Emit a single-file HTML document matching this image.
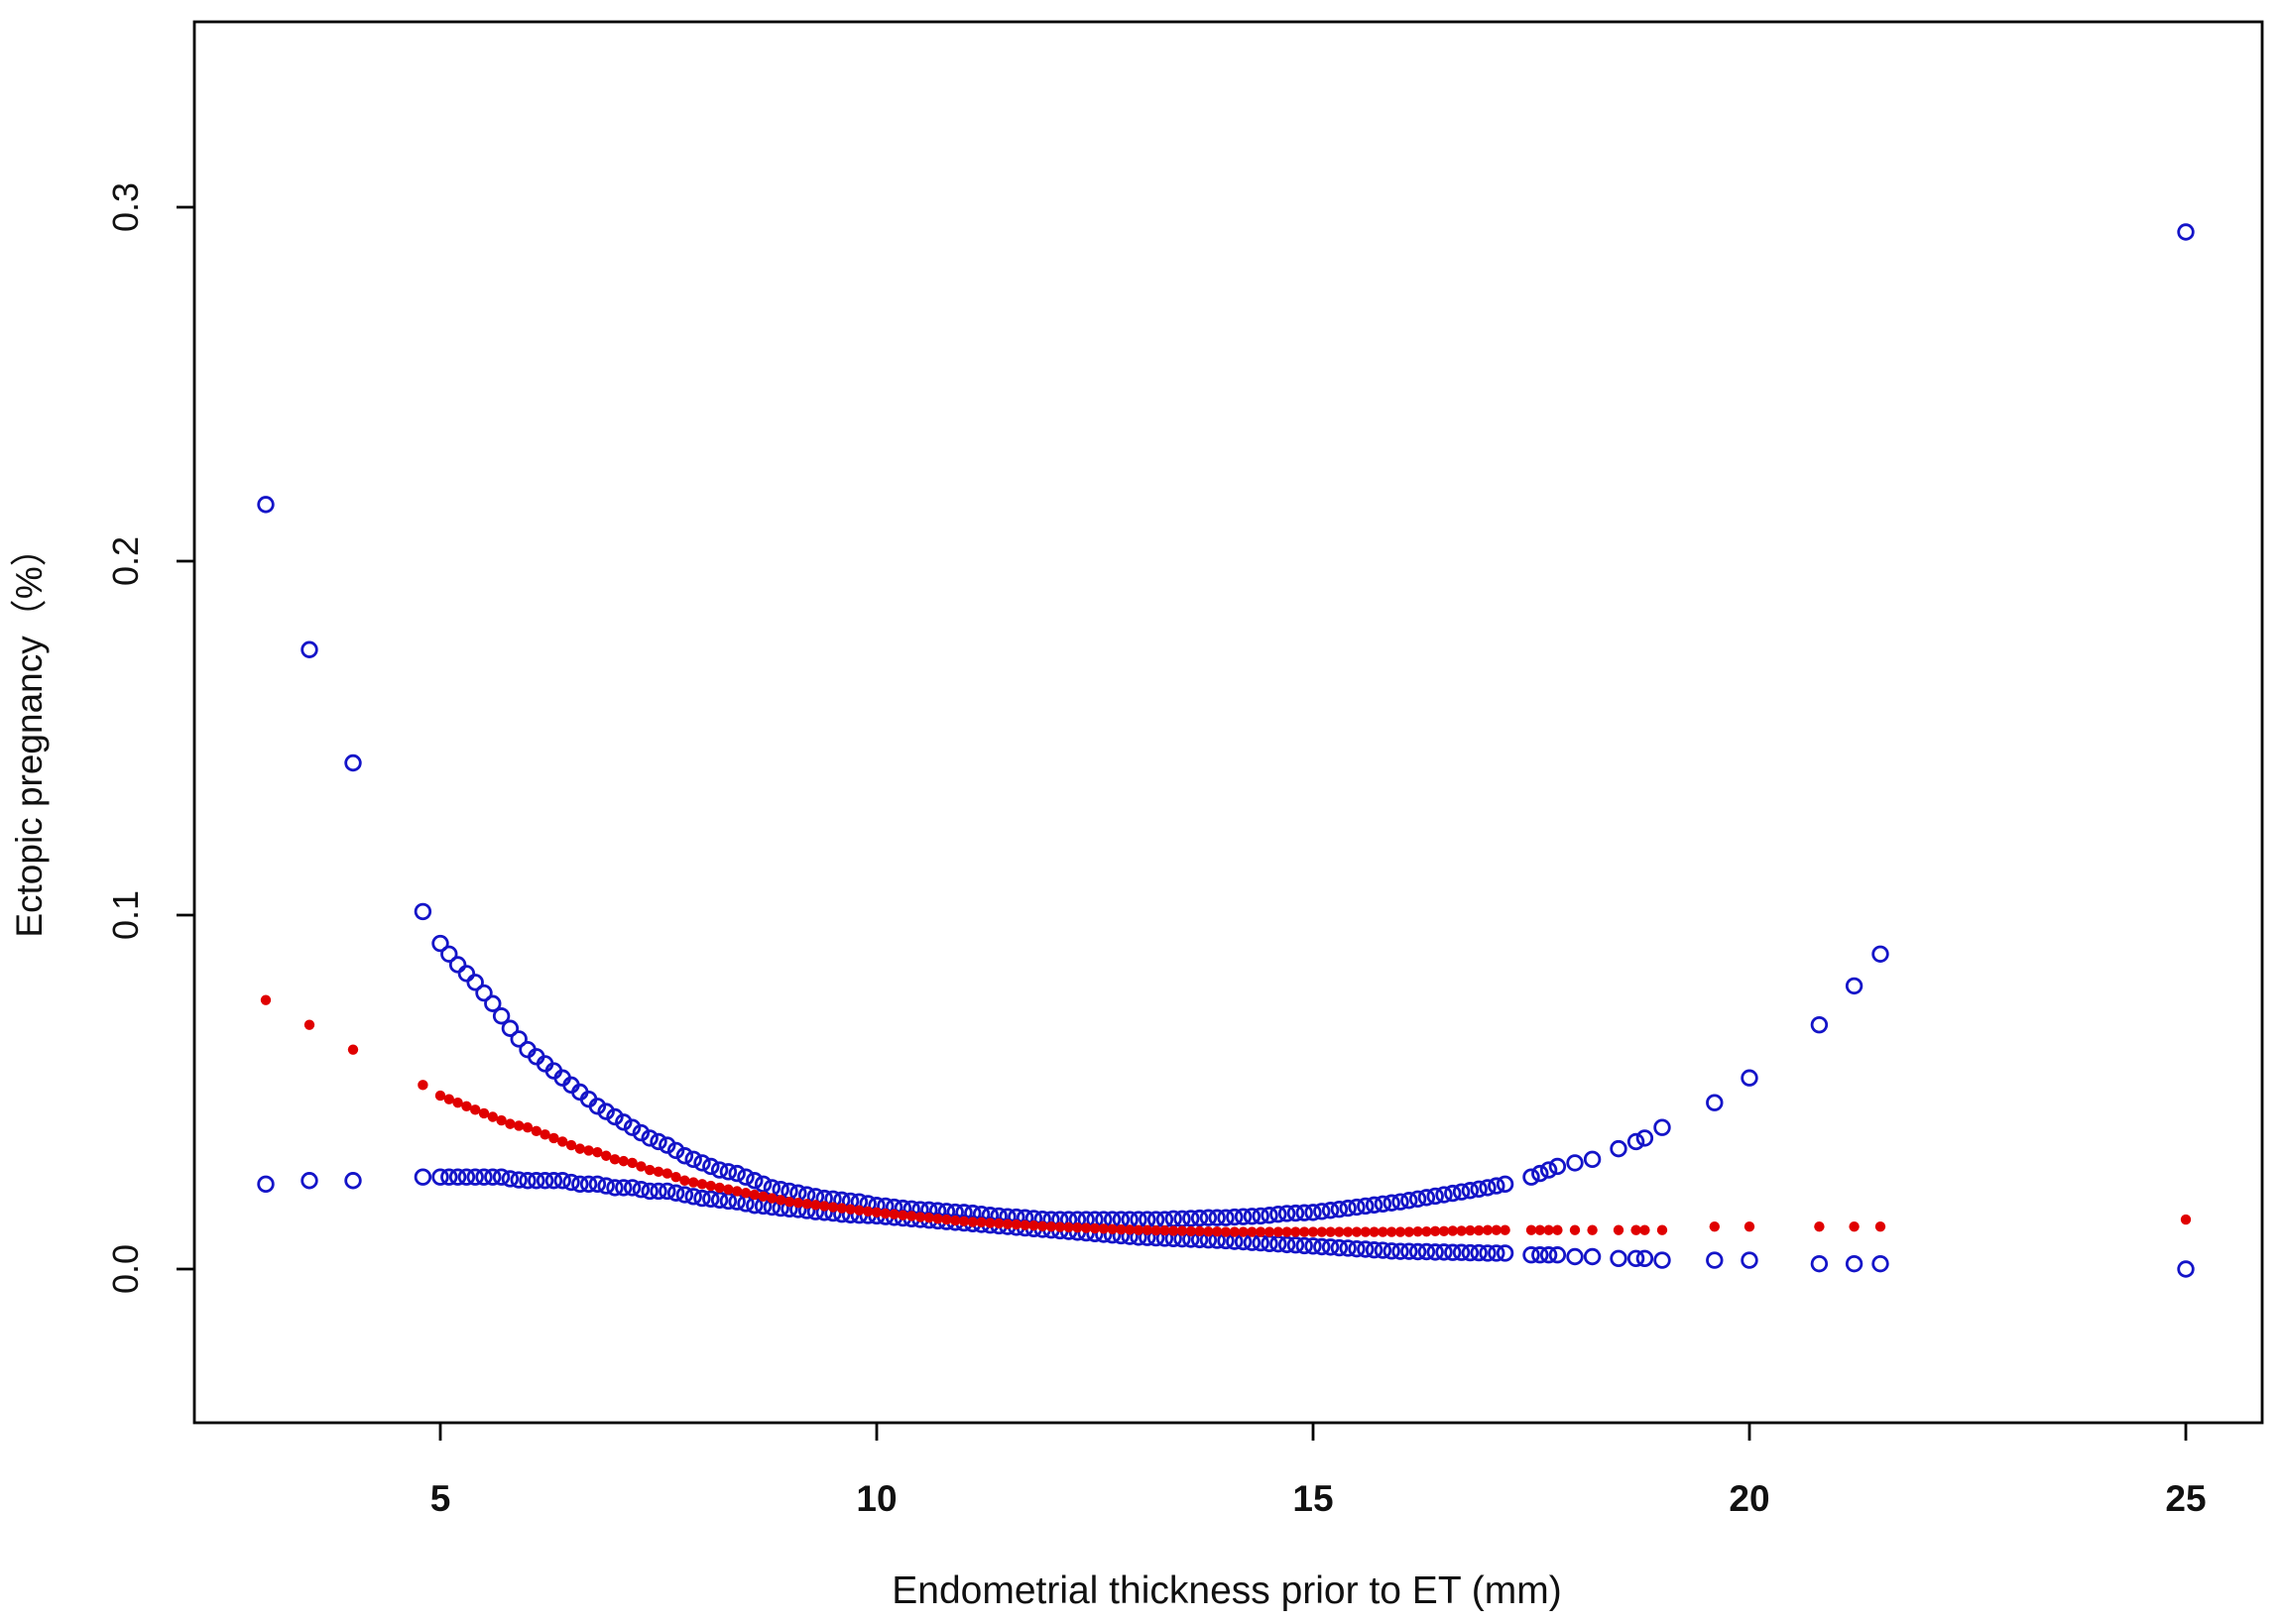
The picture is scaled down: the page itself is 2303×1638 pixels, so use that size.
<!DOCTYPE html>
<html><head><meta charset="utf-8">
<style>
html,body{margin:0;padding:0;background:#fff;}
svg{display:block;}
text{font-family:"Liberation Sans",Arial,"Noto Sans CJK SC",sans-serif;fill:#111;}
</style></head>
<body>
<svg id="chart" width="2303" height="1638" viewBox="0 0 2303 1638" xmlns="http://www.w3.org/2000/svg">
<rect x="0" y="0" width="2303" height="1638" fill="#fff"/>
<g id="marks"></g>
<rect x="196" y="22" width="2085" height="1413" fill="none" stroke="#000" stroke-width="2.8"/>
<g id="axes"></g>
<text x="1237" y="1617" font-size="39" text-anchor="middle">Endometrial thickness prior to ET (mm)</text>
<text transform="translate(42,740) rotate(-90)" font-size="37" text-anchor="middle">Ectopic pregnancy（%）</text>
</svg>
<script>
const xs = [3,3.5,4,4.8,
5.0,5.1,5.2,5.3,5.4,5.5,5.6,5.7,5.8,5.9,6.0,6.1,6.2,6.3,6.4,6.5,6.6,6.7,6.8,6.9,7.0,7.1,7.2,7.3,7.4,7.5,7.6,7.7,7.8,7.9,8.0,8.1,8.2,8.3,8.4,8.5,8.6,8.7,8.8,8.9,9.0,9.1,9.2,9.3,9.4,9.5,9.6,9.7,9.8,9.9,10.0,10.1,10.2,10.3,10.4,10.5,10.6,10.7,10.8,10.9,11.0,11.1,11.2,11.3,11.4,11.5,11.6,11.7,11.8,11.9,12.0,12.1,12.2,12.3,12.4,12.5,12.6,12.7,12.8,12.9,13.0,13.1,13.2,13.3,13.4,13.5,13.6,13.7,13.8,13.9,14.0,14.1,14.2,14.3,14.4,14.5,14.6,14.7,14.8,14.9,15.0,15.1,15.2,15.3,15.4,15.5,15.6,15.7,15.8,15.9,16.0,16.1,16.2,16.3,16.4,16.5,16.6,16.7,16.8,16.9,17.0,17.1,17.2,
17.5,17.6,17.7,17.8,18.0,18.2,18.5,18.7,18.8,19.0,19.6,20.0,20.8,21.2,21.5,25];
const upper = [0.216,0.175,0.143,0.101,
0.092,0.089,0.086,0.0835,0.081,0.078,0.075,0.0715,0.068,0.065,
0.062,0.060,0.058,0.056,0.054,0.052,0.050,0.048,0.046,0.0445,
0.043,0.0415,0.040,0.0385,0.037,0.036,0.035,0.0335,0.032,0.031,
0.030,0.029,0.028,0.0275,0.027,0.026,0.025,0.024,0.023,0.0225,
0.022,0.0215,0.021,0.0205,0.020,0.0198,0.0195,0.0192,0.019,0.0185,
0.018,0.0178,0.0175,0.0172,0.017,0.0168,0.0167,0.0165,0.0163,0.0161,
0.016,0.0158,0.0155,0.0152,0.015,0.0148,0.0147,0.0145,0.0143,0.0141,
0.014,0.014,0.014,0.014,0.014,0.014,0.014,0.014,0.014,0.014,
0.014,0.014,0.014,0.014,0.0142,0.0142,0.0143,0.0144,0.0145,0.0145,
0.0145,0.0147,0.0148,0.0149,0.015,0.0152,0.0155,0.0157,0.0158,0.0159,
0.016,0.0163,0.0166,0.0169,0.0172,0.0175,0.0178,0.0181,0.0184,0.0187,
0.019,0.0194,0.0198,0.0202,0.0206,0.021,0.0214,0.0218,0.0222,0.0226,
0.023,0.0235,0.024,
0.026,0.027,0.028,0.029,0.030,0.031,0.034,0.036,0.037,0.040,0.047,0.054,0.069,0.080,0.089,0.293];
const fit = [0.076,0.069,0.062,0.052,
0.049,0.048,0.047,0.046,0.045,0.044,0.043,0.042,0.041,0.0405,
0.040,0.039,0.038,0.037,0.036,0.035,0.034,0.0335,0.033,0.032,
0.031,0.0305,0.030,0.029,0.028,0.0275,0.027,0.026,0.025,0.0245,
0.024,0.0235,0.023,0.0225,0.022,0.0215,0.021,0.0205,0.020,0.0195,
0.019,0.0187,0.0184,0.0181,0.0178,0.0175,0.0172,0.0169,0.0166,0.0163,
0.016,0.0157,0.0155,0.0152,0.015,0.0147,0.0145,0.0142,0.014,0.0137,
0.0135,0.0133,0.0132,0.013,0.0129,0.0127,0.0126,0.0124,0.0123,0.0121,
0.012,0.0119,0.0118,0.0117,0.0116,0.0115,0.0114,0.0113,0.0112,0.0111,
0.011,0.011,0.0109,0.0109,0.0108,0.0108,0.0107,0.0107,0.0106,0.0106,
0.0105,0.0105,0.0105,0.0105,0.0105,0.0105,0.0105,0.0105,0.0105,0.0105,
0.0105,0.0105,0.0105,0.0105,0.0105,0.0105,0.0105,0.0105,0.0105,0.0105,
0.0105,0.0105,0.0106,0.0106,0.0107,0.0107,0.0108,0.0108,0.0109,0.0109,
0.011,0.011,0.011,
0.011,0.011,0.011,0.011,0.011,0.011,0.011,0.011,0.011,0.011,0.012,0.012,0.012,0.012,0.012,0.014];
const lower = [0.024,0.025,0.025,0.026,
0.026,0.026,0.026,0.026,0.026,0.026,0.026,0.026,0.0255,0.0252,
0.025,0.025,0.025,0.025,0.025,0.0245,0.024,0.024,0.024,0.0235,
0.023,0.023,0.023,0.0225,0.022,0.022,0.022,0.0215,0.021,0.0205,
0.020,0.0198,0.0195,0.0192,0.019,0.0185,0.018,0.0178,0.0175,0.0172,
0.017,0.0168,0.0165,0.0162,0.016,0.0158,0.0155,0.0153,0.0152,0.0151,
0.015,0.0148,0.0146,0.0144,0.0142,0.014,0.0138,0.0136,0.0134,0.0132,
0.013,0.0128,0.0126,0.0124,0.0122,0.012,0.0118,0.0116,0.0114,0.0112,
0.011,0.0108,0.0106,0.0104,0.0102,0.010,0.0098,0.0096,0.0094,0.0092,
0.009,0.0089,0.0088,0.0087,0.0086,0.0085,0.0084,0.0083,0.0082,0.0081,
0.008,0.0078,0.0077,0.0075,0.0074,0.0072,0.0071,0.0069,0.0068,0.0066,
0.0065,0.0063,0.0062,0.006,0.0059,0.0057,0.0056,0.0054,0.0053,0.0051,
0.005,0.005,0.0049,0.0049,0.0048,0.0048,0.0047,0.0047,0.0046,0.0046,
0.0045,0.0045,0.0045,
0.004,0.004,0.004,0.004,0.0035,0.0035,0.003,0.003,0.003,0.0025,0.0025,0.0025,0.0015,0.0015,0.0015,0.0];
const xTicks = [5,10,15,20,25];
const xTickLabels = ["5","10","15","20","25"];
const yTicks = [0,0.1,0.2,0.3];
const yTickLabels = ["0.0","0.1","0.2","0.3"];

const NS = "http://www.w3.org/2000/svg";
function sx(v){ return 444 + (v - 5) * 88; }
function sy(v){ return 1280 - v * 3570; }
const marks = document.getElementById('marks');
const axes = document.getElementById('axes');
function mk(tag, attrs, parent){ const e = document.createElementNS(NS, tag); for (const k in attrs) e.setAttribute(k, attrs[k]); parent.appendChild(e); return e; }

[upper, lower].forEach((arr, si) => {
  arr.forEach((v, i) => {
    const c = mk('circle', {cx: sx(xs[i]), cy: sy(v), r: 7.3, fill: 'none', stroke: '#1414c8', 'stroke-width': 2.8}, marks);
    
    
  });
});
fit.forEach((v, i) => {
  const c = mk('circle', {cx: sx(xs[i]), cy: sy(v), r: 5.2, fill: '#e00000'}, marks);
  
  
});

xTicks.forEach((t, i) => {
  const l = mk('line', {x1: sx(t), x2: sx(t), y1: 1435, y2: 1453, stroke: '#000', 'stroke-width': 2.8}, axes);
  
  
  const tx = mk('text', {x: sx(t), y: 1524, 'font-size': 37, 'font-weight': 'bold', 'text-anchor': 'middle'}, axes);
  tx.textContent = xTickLabels[i];
  
  
});
yTicks.forEach((t, i) => {
  const l = mk('line', {x1: 178, x2: 196, y1: sy(t), y2: sy(t), stroke: '#000', 'stroke-width': 2.8}, axes);
  
  
  const tx = mk('text', {transform: 'translate(139,' + sy(t) + ') rotate(-90)', 'font-size': 36, 'text-anchor': 'middle'}, axes);
  tx.textContent = yTickLabels[i];
  
  
});
</script>
</body></html>
